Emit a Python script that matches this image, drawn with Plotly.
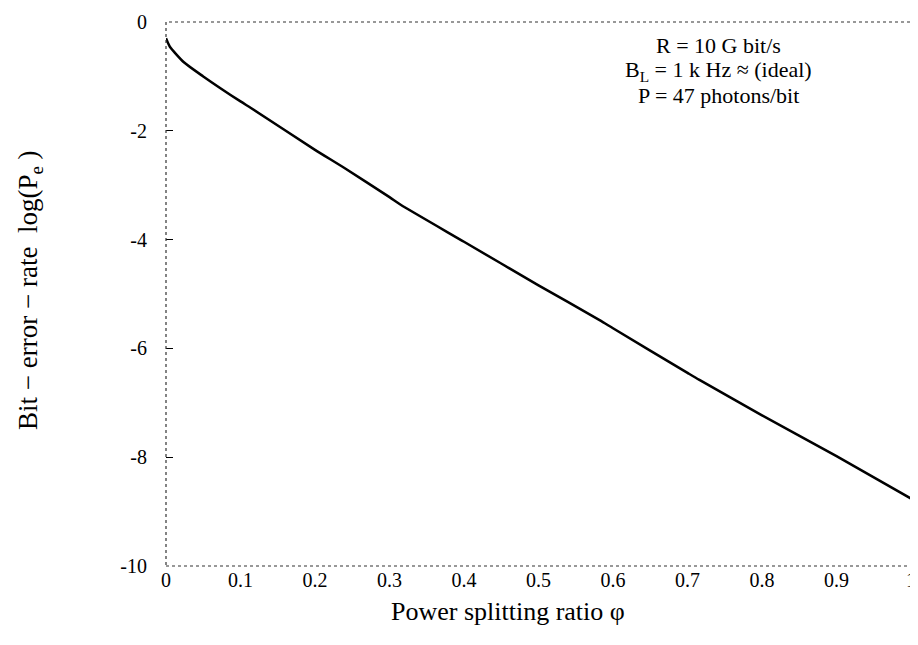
import plotly.graph_objects as go

# Data
phi = [0.0, 0.005, 0.024, 0.05, 0.1, 0.114, 0.2, 0.239, 0.3, 0.315, 0.4, 0.5,
       0.582, 0.6, 0.7, 0.716, 0.8, 0.9, 1.0]
log_pe = [-0.3, -0.45, -0.74, -1.0, -1.46, -1.58, -2.35, -2.68, -3.22, -3.36, -4.04, -4.84,
          -5.48, -5.63, -6.45, -6.58, -7.23, -7.98, -8.76]

x_ticks = [0, 0.1, 0.2, 0.3, 0.4, 0.5, 0.6, 0.7, 0.8, 0.9, 1.0]
x_tick_labels = ["0", "0.1", "0.2", "0.3", "0.4", "0.5", "0.6", "0.7", "0.8", "0.9", "1"]
y_ticks = [0, -2, -4, -6, -8, -10]
y_tick_labels = ["0", "-2", "-4", "-6", "-8", "-10"]

info_lines = ["R = 10 G bit/s", "B<sub>L</sub> = 1 k Hz ≈ (ideal)", "P = 47 photons/bit"]

FONT = "Liberation Serif, Times New Roman, serif"

# the page body has an 8px default margin; work in window pixels and shift
OFF = 8
W, H = 918 - OFF, 645 - OFF
L, T = 166 - OFF, 22 - OFF
R = W - (911 - OFF)
B = H - (566 - OFF)
PW, PH = W - L - R, H - T - B


def px_x(px):
    return (px - OFF - L) / PW


def px_y(py):
    return (H - B - (py - OFF)) / PH


fig = go.Figure()
fig.add_trace(go.Scatter(x=phi, y=log_pe, mode="lines",
                         line=dict(color="black", width=2.5, shape="spline", smoothing=0.6),
                         showlegend=False, hoverinfo="skip"))

fig.update_layout(
    width=W, height=H,
    margin=dict(l=L, r=R, t=T, b=B, autoexpand=False),
    paper_bgcolor="white", plot_bgcolor="white",
    font=dict(family=FONT, color="black", size=20),
    xaxis=dict(range=[0, 1], tickvals=x_ticks, ticktext=x_tick_labels,
               showgrid=False, zeroline=False, showline=False, automargin=False,
               ticks="", tickfont=dict(size=20)),
    yaxis=dict(range=[-10, 0], tickvals=y_ticks, ticktext=y_tick_labels,
               showgrid=False, zeroline=False, showline=False, automargin=False,
               ticks="inside", ticklen=7, tickcolor="black", tickwidth=1,
               ticklabelstandoff=18, tickfont=dict(size=20)),
)

# dotted (scanned-looking) frame
fig.add_shape(type="rect", xref="paper", yref="paper", x0=0, y0=0, x1=1, y1=1,
              line=dict(color="#333333", width=1.2, dash="dot"))

# axis titles
fig.add_annotation(xref="paper", yref="paper", x=px_x(508), y=px_y(611),
                   xanchor="center", yanchor="middle", showarrow=False,
                   text="Power splitting ratio φ", font=dict(size=26, family=FONT))
fig.add_annotation(xref="paper", yref="paper", x=px_x(30), y=px_y(290),
                   xanchor="center", yanchor="middle", showarrow=False, textangle=-90,
                   text="Bit − error − rate  log(P<sub>e</sub> )", font=dict(size=27, family=FONT))

# info text block
for line, py in zip(info_lines, [46, 71, 96]):
    fig.add_annotation(xref="paper", yref="paper", x=px_x(718), y=px_y(py),
                       xanchor="center", yanchor="middle", showarrow=False,
                       text=line, font=dict(size=22, family=FONT))

fig.write_html("out.html")
